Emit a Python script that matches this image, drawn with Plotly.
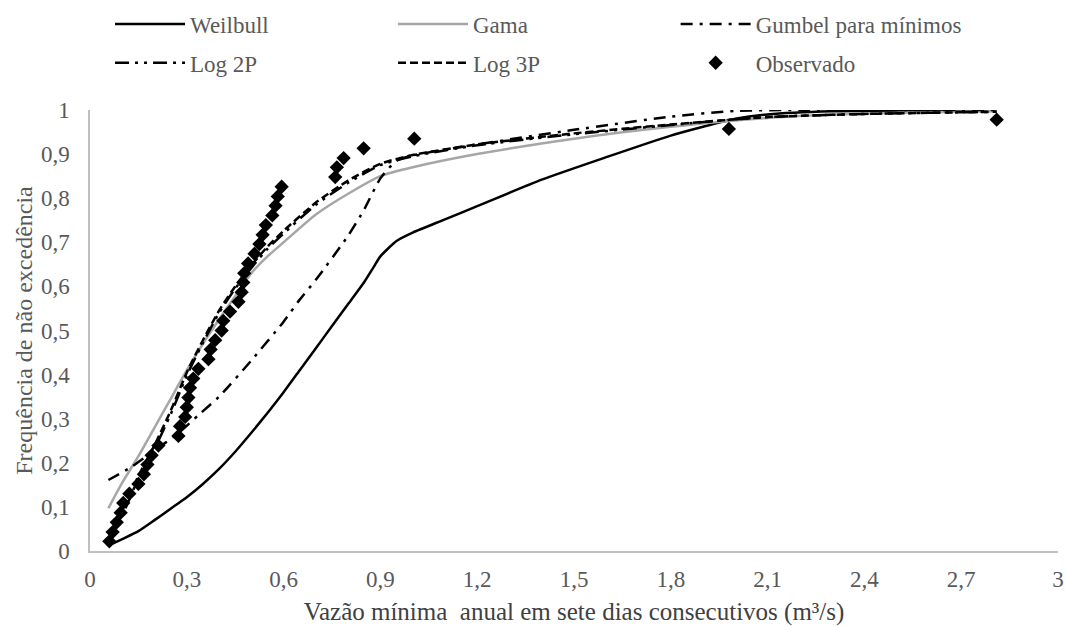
import plotly.graph_objects as go

# ---------------- data ----------------
weibull_x = [0.057, 0.1, 0.15, 0.2, 0.25, 0.3, 0.35, 0.4, 0.45, 0.5, 0.55, 0.6, 0.65, 0.7, 0.75, 0.8,
             0.85, 0.88, 0.9, 0.95, 1.0, 1.1, 1.2, 1.4, 1.6, 1.8, 1.9, 2.0, 2.1, 2.3, 2.81]
weibull_y = [0.012, 0.027, 0.045, 0.07, 0.096, 0.122, 0.152, 0.186, 0.225, 0.268, 0.313, 0.36, 0.41,
             0.46, 0.51, 0.56, 0.61, 0.645, 0.668, 0.703, 0.722, 0.752, 0.782, 0.842, 0.893, 0.942,
             0.962, 0.98, 0.99, 0.997, 1.0]

gama_x = [0.057, 0.1, 0.15, 0.2, 0.25, 0.3, 0.35, 0.4, 0.45, 0.5, 0.55, 0.6, 0.7, 0.8, 0.9, 1.0,
          1.2, 1.5, 1.8, 2.1, 2.4, 2.81]
gama_y = [0.097, 0.155, 0.215, 0.28, 0.345, 0.41, 0.47, 0.525, 0.578, 0.63, 0.668, 0.70, 0.763,
          0.81, 0.85, 0.87, 0.90, 0.935, 0.962, 0.982, 0.992, 0.997]

gumbel_x = [0.057, 0.129, 0.2, 0.27, 0.336, 0.4, 0.5, 0.6, 0.65, 0.7, 0.8, 0.85, 0.9, 0.95, 1.0,
            1.2, 1.5, 1.8, 2.0, 2.2, 2.81]
gumbel_y = [0.161, 0.191, 0.228, 0.265, 0.308, 0.35, 0.432, 0.52, 0.57, 0.615, 0.715, 0.775,
            0.845, 0.885, 0.897, 0.922, 0.955, 0.985, 0.998, 1.0, 1.0]

log2p_x = [0.057, 0.1, 0.15, 0.2, 0.25, 0.3, 0.35, 0.4, 0.45, 0.5, 0.55, 0.6, 0.7, 0.8, 0.9, 1.0,
           1.2, 1.5, 1.8, 2.1, 2.4, 2.81]
log2p_y = [0.02, 0.08, 0.165, 0.232, 0.31, 0.398, 0.472, 0.54, 0.595, 0.642, 0.685, 0.72, 0.785,
           0.835, 0.875, 0.895, 0.92, 0.945, 0.966, 0.984, 0.991, 0.996]

log3p_x = [0.057, 0.1, 0.15, 0.2, 0.25, 0.3, 0.35, 0.4, 0.45, 0.5, 0.55, 0.6, 0.7, 0.8, 0.9, 1.0,
           1.2, 1.5, 1.8, 2.1, 2.4, 2.81]
log3p_y = [0.025, 0.088, 0.17, 0.24, 0.318, 0.405, 0.478, 0.545, 0.6, 0.648, 0.69, 0.726, 0.79,
           0.84, 0.878, 0.898, 0.922, 0.947, 0.967, 0.984, 0.991, 0.996]

obs_x = [0.06, 0.07, 0.083, 0.095, 0.103, 0.122, 0.15, 0.167, 0.178, 0.191, 0.212, 0.274,
         0.279, 0.295, 0.30, 0.305, 0.31, 0.32, 0.336, 0.367, 0.374, 0.388, 0.408, 0.413,
         0.434, 0.46, 0.47, 0.475, 0.478, 0.49, 0.51, 0.525, 0.535, 0.545, 0.565, 0.575,
         0.582, 0.594, 0.76, 0.765, 0.786, 0.848, 1.005, 1.98, 2.81]
obs_y = [0.022, 0.043, 0.065, 0.087, 0.109, 0.130, 0.152, 0.174, 0.196, 0.217, 0.239, 0.261,
         0.283, 0.304, 0.326, 0.348, 0.370, 0.391, 0.413, 0.435, 0.457, 0.478, 0.500, 0.522,
         0.543, 0.565, 0.587, 0.609, 0.630, 0.652, 0.674, 0.696, 0.717, 0.739, 0.761, 0.783,
         0.804, 0.826, 0.848, 0.870, 0.891, 0.913, 0.935, 0.957, 0.978]

x_ticks = [0, 0.3, 0.6, 0.9, 1.2, 1.5, 1.8, 2.1, 2.4, 2.7, 3]
y_ticks = [0, 0.1, 0.2, 0.3, 0.4, 0.5, 0.6, 0.7, 0.8, 0.9, 1]

# ---------------- figure ----------------
FONT = "Liberation Serif, Times New Roman, serif"
TXT = "#595959"

fig = go.Figure()

spl = dict(shape="spline", smoothing=0.6)
fig.add_trace(go.Scatter(x=weibull_x, y=weibull_y, mode="lines", name="Weilbull",
                         line=dict(color="black", width=2.5, **spl), legend="legend"))
fig.add_trace(go.Scatter(x=gama_x, y=gama_y, mode="lines", name="Gama",
                         line=dict(color="#a6a6a6", width=2.5, **spl), legend="legend2"))
fig.add_trace(go.Scatter(x=gumbel_x, y=gumbel_y, mode="lines", name="Gumbel para mínimos",
                         line=dict(color="black", width=2.5, dash="12px,7px,3px,7px", **spl),
                         legend="legend3"))
fig.add_trace(go.Scatter(x=log2p_x, y=log2p_y, mode="lines", name="Log 2P",
                         line=dict(color="black", width=2.5, dash="14px,6px,3px,6px,3px,6px", **spl),
                         legend="legend4"))
fig.add_trace(go.Scatter(x=log3p_x, y=log3p_y, mode="lines", name="Log 3P",
                         line=dict(color="black", width=2.5, dash="8px,4px", **spl),
                         legend="legend5"))
fig.add_trace(go.Scatter(x=obs_x, y=obs_y, mode="markers", name="Observado",
                         marker=dict(symbol="diamond", size=11, color="black"),
                         legend="legend6"))

def leg(xp, yp):
    return dict(x=xp, y=yp, xanchor="left", yanchor="middle", orientation="h",
                font=dict(family=FONT, size=23, color=TXT), bgcolor="rgba(0,0,0,0)",
                itemwidth=70, borderwidth=0, visible=True)

row1 = 1.195
row2 = 1.107
fig.update_layout(
    width=1066, height=626,
    showlegend=True,
    paper_bgcolor="white", plot_bgcolor="white",
    separators=",.",
    margin=dict(l=90, r=8, t=110, b=75, autoexpand=False),
    font=dict(family=FONT, size=23, color=TXT),
    legend=leg(0.0207, row1),
    legend2=leg(0.313, row1),
    legend3=leg(0.605, row1),
    legend4=leg(0.0207, row2),
    legend5=leg(0.313, row2),
    legend6=leg(0.605, row2),
    xaxis=dict(range=[0, 3], tickvals=x_ticks, showgrid=False, zeroline=False,
               showline=True, linecolor="#bfbfbf", linewidth=1.5,
               ticks="", ticklabelstandoff=7,
               tickfont=dict(family=FONT, size=23, color=TXT),
               title=dict(text="Vazão mínima\u00a0 anual em sete dias consecutivos (m³/s)",
                          font=dict(family=FONT, size=25, color="#404040"), standoff=11)),
    yaxis=dict(range=[0, 1], tickvals=y_ticks, showgrid=False, zeroline=False,
               showline=True, linecolor="#bfbfbf", linewidth=1.5,
               ticks="", ticklabelstandoff=14,
               tickfont=dict(family=FONT, size=23, color=TXT),
               title=dict(text="Frequência de não excedência",
                          font=dict(family=FONT, size=24, color=TXT), standoff=2)),
)

# remove the default page margin so the 1066x626 figure fills the window exactly
fig.write_html("out.html",
               config={"displayModeBar": False},
               post_script="document.body.style.margin='0';document.body.style.overflow='hidden';")
